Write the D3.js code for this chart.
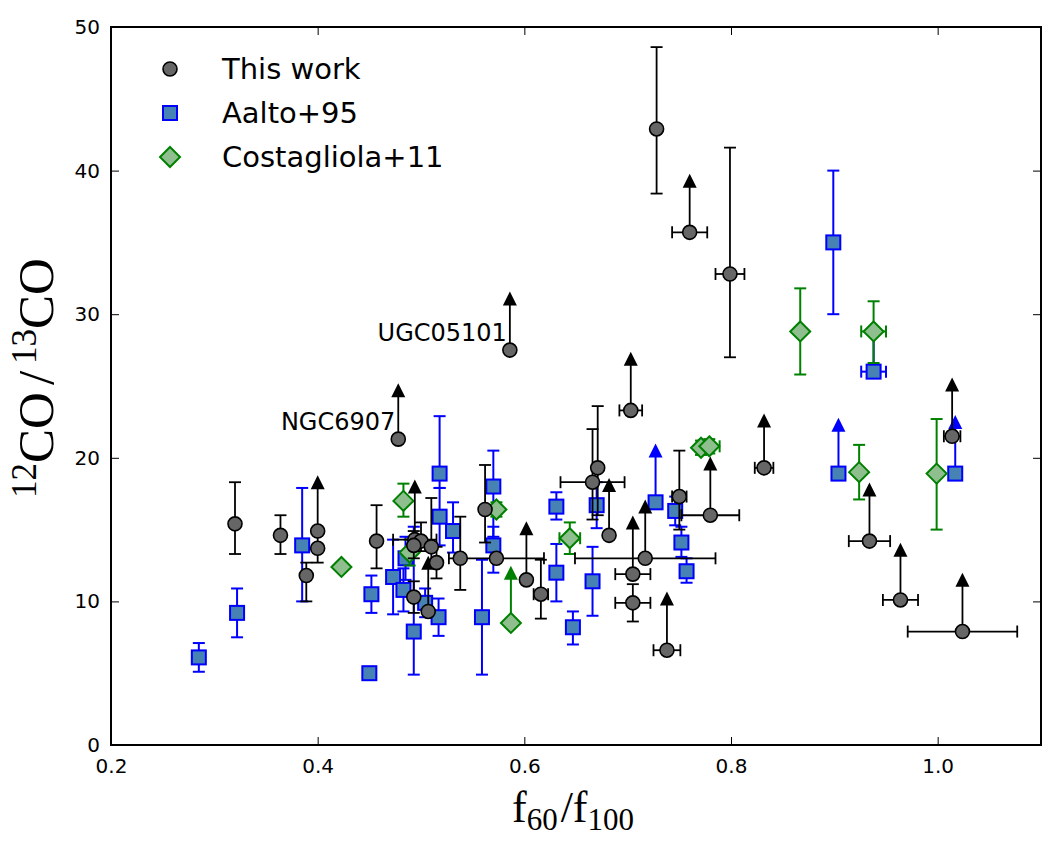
<!DOCTYPE html>
<html><head><meta charset="utf-8">
<script src="https://cdn.jsdelivr.net/npm/d3@7/dist/d3.min.js"></script>
<style>body{margin:0;background:#fff}svg{display:block}</style>
</head><body>
<svg id="chart" width="1057" height="847"></svg>
<script>
// rows: [x, y, yLow, yHigh, xErr, lowerLimit]
const thisWork = [
 [0.320,15.4,13.3,18.3,0,0],[0.364,14.6,13.3,16.0,0,0],[0.400,14.9,14.9,18.3,0,1],
 [0.400,13.7,12.7,14.9,0,0],[0.389,11.8,10.0,12.7,0,0],[0.457,14.2,12.3,16.7,0,0],
 [0.478,21.3,21.3,24.7,0,1],[0.494,14.3,14.3,18.0,0.021,1],[0.500,14.2,13.5,15.5,0,0],
 [0.493,13.9,13.0,14.9,0,0],[0.510,13.8,12.5,17.2,0,0],[0.515,12.7,11.6,13.8,0,0],
 [0.493,10.3,9.2,11.4,0,0],[0.507,9.3,9.3,12.7,0,1],[0.538,13.0,10.8,15.9,0,0],
 [0.562,16.4,14.1,19.5,0,0],[0.573,13.0,13.0,13.0,0.046,0],[0.586,27.5,27.5,31.1,0,1],
 [0.602,11.5,11.5,15.1,0,1],[0.616,10.5,8.8,12.9,0.007,0],[0.666,18.3,15.7,22.0,0.031,0],
 [0.671,19.3,16.0,23.6,0,0],[0.682,14.6,14.6,18.1,0,1],[0.703,23.3,23.3,26.9,0.011,1],
 [0.705,11.9,11.9,15.5,0.017,1],[0.705,9.9,8.6,11.2,0.017,0],[0.717,13.0,13.0,16.6,0.068,1],
 [0.738,6.6,6.6,10.2,0.013,1],[0.728,42.9,38.4,48.6,0,0],[0.760,35.7,35.7,39.3,0.017,1],
 [0.750,17.3,15.0,20.5,0.007,0],[0.780,16.0,16.0,19.6,0.028,1],[0.799,32.8,27.0,41.6,0.014,0],
 [0.832,19.3,19.3,22.6,0.009,1],[0.934,14.2,14.2,17.8,0.020,1],[0.964,10.1,10.1,13.6,0.017,1],
 [1.024,7.9,7.9,11.5,0.053,1],[1.014,21.5,21.5,25.1,0.008,1]
];
const aalto95 = [
 [0.285,6.1,5.1,7.1,0,0],[0.322,9.2,7.5,10.9,0,0],[0.385,13.9,10.0,17.9,0,0],
 [0.450,5.0,5.0,5.0,0,0],[0.452,10.5,9.2,11.8,0,0],[0.473,11.7,9.1,14.3,0,0],
 [0.483,10.8,9.3,12.3,0,0],[0.485,13.0,11.5,14.5,0,0],[0.493,7.9,4.9,15.2,0,0],
 [0.504,9.9,8.9,10.9,0,0],[0.518,18.9,17.9,22.9,0,0],[0.518,15.9,13.9,17.9,0,0],
 [0.517,8.9,7.6,10.2,0,0],[0.531,14.9,13.4,16.9,0,0],[0.559,8.9,4.9,12.9,0,0],
 [0.570,18.0,14.5,20.5,0,0],[0.570,13.9,12.0,15.2,0,0],[0.631,16.6,15.7,17.6,0,0],
 [0.631,12.0,10.0,14.0,0,0],[0.647,8.2,7.0,9.3,0,0],[0.666,11.4,9.0,13.8,0,0],
 [0.670,16.7,15.1,18.3,0,0],[0.727,16.9,16.9,20.5,0,1],[0.746,16.3,15.3,17.3,0,0],
 [0.752,14.1,13.1,15.2,0,0],[0.757,12.1,11.3,13.0,0,0],[0.899,35.0,30.0,40.0,0,0],
 [0.938,26.0,26.0,28.8,0.012,0],[0.904,18.9,18.9,22.3,0,1],[1.017,18.9,18.9,22.5,0,1]
];
const costagliola11 = [
 [0.423,12.4,12.4,12.4,0,0],[0.483,17.0,15.9,18.2,0,0],[0.489,13.4,12.5,14.3,0,0],
 [0.573,16.4,15.9,16.9,0,0],[0.587,8.5,8.5,12.0,0,1],[0.644,14.4,13.3,15.5,0.010,0],
 [0.771,20.7,20.2,21.2,0,0],[0.779,20.8,20.3,21.3,0.010,0],[0.867,28.8,25.8,31.8,0,0],
 [0.938,28.8,26.6,30.9,0.012,0],[0.924,19.0,17.1,20.9,0,0],[0.999,18.9,15.0,22.7,0,0]
];
const seriesNames = ["This work","Aalto+95","Costagliola+11"];
const xTicks = [0.2,0.4,0.6,0.8,1.0];
const yTicks = [0,10,20,30,40,50];
const annotations = [["UGC05101",0.586,27.5],["NGC6907",0.478,21.3]];

const svg = d3.select("#chart");
const L=111,R=1041,T=27,B=745;
const x = d3.scaleLinear().domain([0.2,1.1]).range([L,R]);
const y = d3.scaleLinear().domain([0,50]).range([B,T]);

// ticks (inward, all sides)
const ax = svg.append("g");
ax.append("g").attr("transform",`translate(0,${B})`)
  .call(d3.axisBottom(x).tickValues(xTicks).tickFormat(d3.format(".1f")).tickSizeInner(-8).tickSizeOuter(0).tickPadding(14));
ax.append("g").attr("transform",`translate(0,${T})`)
  .call(d3.axisTop(x).tickValues(xTicks).tickFormat("").tickSizeInner(-8).tickSizeOuter(0));
ax.append("g").attr("transform",`translate(${L},0)`)
  .call(d3.axisLeft(y).tickValues(yTicks).tickFormat(d3.format("d")).tickSizeInner(-8).tickSizeOuter(0).tickPadding(11));
ax.append("g").attr("transform",`translate(${R},0)`)
  .call(d3.axisRight(y).tickValues(yTicks).tickFormat("").tickSizeInner(-8).tickSizeOuter(0));
ax.selectAll(".domain").remove();
ax.selectAll(".tick line").attr("stroke","#000").attr("stroke-width",1);
ax.selectAll(".tick text").attr("fill","#000").attr("font-family","DejaVu Sans").attr("font-size",20);

const plot = svg.append("g");
const styles = [
  {data:thisWork, err:"#000", ew:1.8, shape:"circle", fill:"#666666", stroke:"#000", sw:1.6},
  {data:aalto95, err:"#0000ff", ew:2, shape:"square", fill:"#4682b4", stroke:"#0000ff", sw:2},
  {data:costagliola11, err:"#008000", ew:2, shape:"diamond", fill:"#8fbf8f", stroke:"#008000", sw:2}
];
function marker(g, shape, cx, cy, st){
  let m;
  if(shape==="circle") m=g.append("circle").attr("cx",cx).attr("cy",cy).attr("r",7);
  else if(shape==="square") m=g.append("rect").attr("x",cx-7).attr("y",cy-7).attr("width",14).attr("height",14);
  else m=g.append("path").attr("d",`M${cx},${cy-10}L${cx+10},${cy}L${cx},${cy+10}L${cx-10},${cy}Z`);
  m.attr("fill",st.fill).attr("stroke",st.stroke).attr("stroke-width",st.sw);
}
const drawOrder=[1,2,0];
drawOrder.forEach(i=>{
  const st=styles[i];
  const ge = plot.append("g").attr("stroke",st.err).attr("stroke-width",st.ew).attr("fill",st.err);
  st.data.forEach(d=>{
    const [dx,dy,lo,hi,xe,lim]=d;
    const px=x(dx), py=y(dy);
    if(hi!==lo){
      ge.append("line").attr("x1",px).attr("x2",px).attr("y1",y(lo)).attr("y2",y(hi));
      if(lim){
        ge.append("path").attr("stroke","none")
          .attr("d",`M${px},${y(hi)-7}L${px+7},${y(hi)+7}L${px-7},${y(hi)+7}Z`);
      } else {
        ge.append("line").attr("x1",px-6).attr("x2",px+6).attr("y1",y(hi)).attr("y2",y(hi));
        if(lo<dy) ge.append("line").attr("x1",px-6).attr("x2",px+6).attr("y1",y(lo)).attr("y2",y(lo));
      }
    }
    if(xe>0){
      const x0=x(dx-xe), x1=x(dx+xe);
      ge.append("line").attr("x1",x0).attr("x2",x1).attr("y1",py).attr("y2",py);
      ge.append("line").attr("x1",x0).attr("x2",x0).attr("y1",py-6).attr("y2",py+6);
      ge.append("line").attr("x1",x1).attr("x2",x1).attr("y1",py-6).attr("y2",py+6);
    }
  });
  const gm = plot.append("g");
  st.data.forEach(d=>marker(gm, st.shape, x(d[0]), y(d[1]), st));
});

// annotations
annotations.forEach(a=>{
  svg.append("text").attr("x",x(a[1])-3).attr("y",y(a[2])-9).attr("text-anchor","end")
    .attr("font-family","DejaVu Sans").attr("font-size",24).attr("fill","#000").text(a[0]);
});

// frame
svg.append("rect").attr("x",L).attr("y",T).attr("width",R-L).attr("height",B-T)
  .attr("fill","none").attr("stroke","#000").attr("stroke-width",2);

// legend
const lg = svg.append("g");
seriesNames.forEach((n,i)=>{
  const cy=69+i*44;
  marker(lg, styles[i].shape, 170, cy, styles[i]);
  lg.append("text").attr("x",222).attr("y",cy+10).attr("font-family","DejaVu Sans")
    .attr("font-size",29).attr("fill","#000").text(n);
});

// axis labels
const xl = svg.append("text").attr("x",573).attr("y",822).attr("text-anchor","middle")
  .attr("font-family","Liberation Serif").attr("font-size",44).attr("fill","#000");
xl.append("tspan").text("f");
xl.append("tspan").attr("font-size",31).attr("dy",8).text("60");
xl.append("tspan").attr("dy",-8).attr("dx",3).text("/f");
xl.append("tspan").attr("font-size",31).attr("dy",8).text("100");

const yl = svg.append("text").attr("transform","translate(53,378) rotate(-90)").attr("text-anchor","middle")
  .attr("font-family","Liberation Serif").attr("font-size",51).attr("fill","#000");
yl.append("tspan").attr("font-size",35).attr("dy",-17).text("12");
yl.append("tspan").attr("dy",17).text("CO");
yl.append("tspan").attr("dx",7).text("/");
yl.append("tspan").attr("font-size",35).attr("dx",7).attr("dy",-17).text("13");
yl.append("tspan").attr("dy",17).text("CO");
</script>
</body></html>
